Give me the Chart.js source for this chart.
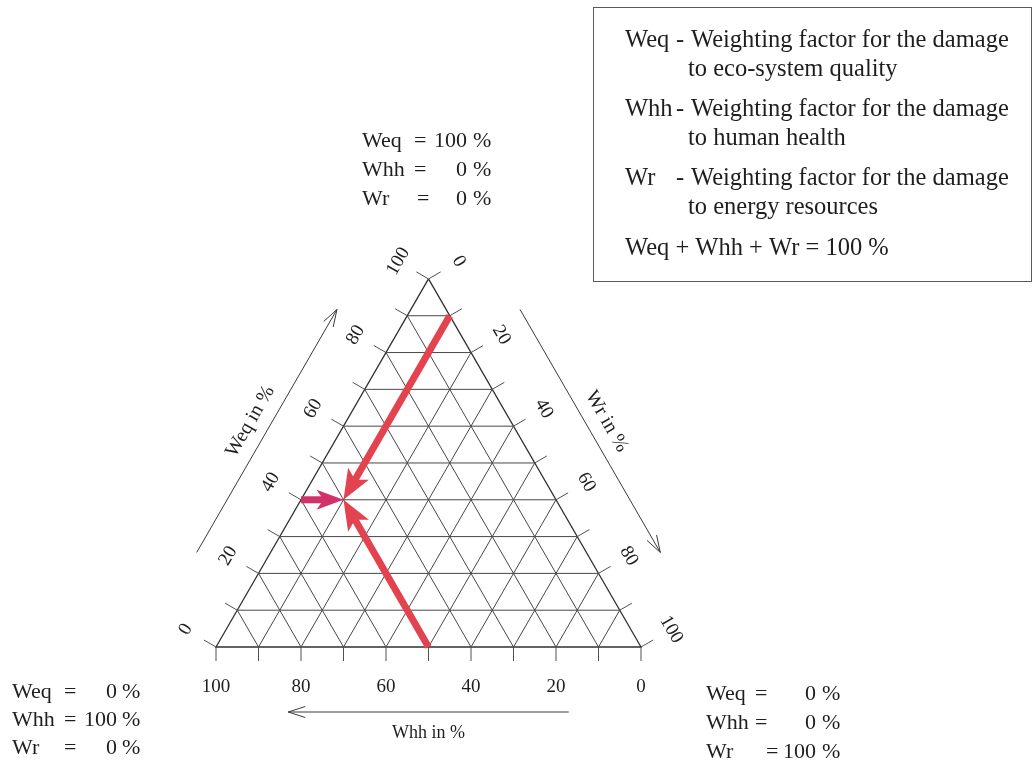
<!DOCTYPE html>
<html>
<head>
<meta charset="utf-8">
<script src="https://cdn.jsdelivr.net/npm/chart.js@4.4.1/dist/chart.umd.min.js"></script>
<style>
  html, body { margin: 0; padding: 0; background: #ffffff; overflow: hidden; }
  canvas { display: block; }
</style>
</head>
<body>
<canvas id="ternary" width="1035" height="768"></canvas>
<script>
// ---- Data (all values in percent, points given as [Weq, Whh, Wr]) ----
const gridSteps = [10, 20, 30, 40, 50, 60, 70, 80, 90];
const tickSteps = [0, 10, 20, 30, 40, 50, 60, 70, 80, 90, 100];
const weqTickLabels = [0, 20, 40, 60, 80, 100];
const whhTickLabels = [100, 80, 60, 40, 20, 0];
const wrTickLabels = [0, 20, 40, 60, 80, 100];

const triangleCorners = [[100, 0, 0], [0, 100, 0], [0, 0, 100], [100, 0, 0]];

// Weighting paths that lead to the selected set Weq 40 / Whh 50 / Wr 10
const pathAlongWr10 = [[90, 0, 10], [40, 50, 10]];
const pathAlongWhh50 = [[0, 50, 50], [40, 50, 10]];
const pathAlongWeq40 = [[40, 60, 0], [40, 50, 10]];

const axisTitles = ['Weq in %', 'Whh in %', 'Wr in %'];

const cornerWeq = ['100', '0', '0'];
const cornerWhh = ['0', '100', '0'];
const cornerWr = ['0', '0', '100'];

const legendLines = [
  ['Weq', '-', 'Weighting factor for the damage'],
  ['', '', 'to eco-system quality'],
  ['Whh', '-', 'Weighting factor for the damage'],
  ['', '', 'to human health'],
  ['Wr', '-', 'Weighting factor for the damage'],
  ['', '', 'to energy resources'],
  ['Weq + Whh + Wr = 100 %', '', '']
];

// ---- Geometry helpers ----
const W = 1035, H = 768;
const UNIT = 4.25;                 // pixels per percent along a side
const ORIGIN = { x: 216, y: 647 }; // pixel of the Whh = 100 corner
const S = Math.sqrt(3) / 2;

function tern(p) { return { x: p[2] + p[0] / 2, y: p[0] * S }; }

const SERIF = '"Liberation Serif", "DejaVu Serif", serif';
const INK = '#1e1e1e';
const GRID = '#474747';

// side definitions: point on the side for value v, outward normal, label rotation
const sides = {
  weq: { at: v => [v, 100 - v, 0], n: [-S, -0.5], rot: -Math.PI / 3 },
  whh: { at: v => [0, v, 100 - v], n: [0, 1], rot: 0 },
  wr:  { at: v => [100 - v, 0, v], n: [S, -0.5], rot: Math.PI / 3 }
};

// ---- Datasets ----
const lineBase = { showLine: true, pointRadius: 0, borderWidth: 1, borderColor: GRID, fill: false };
const datasets = [];
gridSteps.forEach(k => {
  datasets.push({ ...lineBase, data: [tern([k, 100 - k, 0]), tern([k, 0, 100 - k])] });
  datasets.push({ ...lineBase, data: [tern([0, k, 100 - k]), tern([100 - k, k, 0])] });
  datasets.push({ ...lineBase, data: [tern([0, 100 - k, k]), tern([100 - k, 0, k])] });
});
datasets.push({ ...lineBase, borderColor: '#303030', borderWidth: 1.3, data: triangleCorners.map(tern) });

const arrowSets = [
  { path: pathAlongWr10, color: '#e3424f', width: 7, head: 30, half: 12 },
  { path: pathAlongWhh50, color: '#e3424f', width: 7, head: 30, half: 12 },
  { path: pathAlongWeq40, color: '#d2326b', width: 7, head: 27, half: 10 }
];
arrowSets.forEach(a => {
  datasets.push({ showLine: false, pointRadius: 0, data: a.path.map(tern), arrow: a });
});

// ---- Plugins ----
function sidePx(chart, side, v) {
  const p = tern(sides[side].at(v));
  return [chart.scales.x.getPixelForValue(p.x), chart.scales.y.getPixelForValue(p.y)];
}

function drawOpenArrow(ctx, x0, y0, x1, y1) {
  const dx = x1 - x0, dy = y1 - y0, len = Math.hypot(dx, dy);
  const ux = dx / len, uy = dy / len;
  ctx.beginPath();
  ctx.moveTo(x0, y0); ctx.lineTo(x1, y1);
  ctx.moveTo(x1 - 17 * ux - 5.5 * uy, y1 - 17 * uy + 5.5 * ux);
  ctx.lineTo(x1, y1);
  ctx.lineTo(x1 - 17 * ux + 5.5 * uy, y1 - 17 * uy - 5.5 * ux);
  ctx.stroke();
}

const axesPlugin = {
  id: 'ternaryAxes',
  afterDatasetsDraw(chart) {
    const ctx = chart.ctx;
    ctx.save();
    // tick marks on all three sides
    ctx.strokeStyle = '#505050';
    ctx.lineWidth = 1;
    Object.keys(sides).forEach(key => {
      const n = sides[key].n;
      tickSteps.forEach(v => {
        const [x, y] = sidePx(chart, key, v);
        ctx.beginPath();
        ctx.moveTo(x, y);
        ctx.lineTo(x + n[0] * 14, y + n[1] * 14);
        ctx.stroke();
      });
    });

    // tick labels
    ctx.fillStyle = INK;
    ctx.font = '19px ' + SERIF;
    ctx.textAlign = 'center';
    ctx.textBaseline = 'middle';
    const labelSets = { weq: weqTickLabels, whh: whhTickLabels, wr: wrTickLabels };
    Object.keys(labelSets).forEach(key => {
      const sd = sides[key];
      const off = key === 'whh' ? 40 : 35;
      labelSets[key].forEach(v => {
        const [x, y] = sidePx(chart, key, v);
        ctx.save();
        ctx.translate(x + sd.n[0] * off, y + sd.n[1] * off);
        ctx.rotate(sd.rot);
        ctx.fillText(String(v), 0, 0);
        ctx.restore();
      });
    });

    // direction arrows and titles beside each side
    ctx.strokeStyle = '#3a3a3a';
    ctx.lineWidth = 1;
    const keys = ['weq', 'whh', 'wr'];
    keys.forEach((key, i) => {
      const sd = sides[key];
      const off = key === 'whh' ? 65 : 64;
      const [ax, ay] = sidePx(chart, key, 17);
      const [bx, by] = sidePx(chart, key, 83);
      drawOpenArrow(ctx, ax + sd.n[0] * off, ay + sd.n[1] * off, bx + sd.n[0] * off, by + sd.n[1] * off);
      const toff = key === 'whh' ? 86 : 83;
      const [cx, cy] = sidePx(chart, key, 50);
      ctx.save();
      ctx.translate(cx + sd.n[0] * toff, cy + sd.n[1] * toff);
      ctx.rotate(sd.rot);
      ctx.font = (key === 'whh' ? '18px ' : '20px ') + SERIF;
      ctx.fillText(axisTitles[i], 0, 0);
      ctx.restore();
    });

    // thick path arrows
    chart.data.datasets.forEach((ds, i) => {
      if (!ds.arrow) return;
      const pts = chart.getDatasetMeta(i).data;
      const a = pts[0], b = pts[pts.length - 1];
      const st = ds.arrow;
      const dx = b.x - a.x, dy = b.y - a.y, len = Math.hypot(dx, dy);
      const ux = dx / len, uy = dy / len;
      const notchX = b.x - (st.head - 7) * ux, notchY = b.y - (st.head - 7) * uy;
      ctx.strokeStyle = st.color;
      ctx.fillStyle = st.color;
      ctx.lineWidth = st.width;
      ctx.lineCap = 'butt';
      ctx.beginPath();
      ctx.moveTo(a.x, a.y);
      ctx.lineTo(notchX, notchY);
      ctx.stroke();
      ctx.beginPath();
      ctx.moveTo(b.x, b.y);
      ctx.lineTo(b.x - st.head * ux - st.half * uy, b.y - st.head * uy + st.half * ux);
      ctx.lineTo(notchX, notchY);
      ctx.lineTo(b.x - st.head * ux + st.half * uy, b.y - st.head * uy - st.half * ux);
      ctx.closePath();
      ctx.fill();
    });
    ctx.restore();
  },

  afterDraw(chart) {
    const ctx = chart.ctx;
    ctx.save();
    ctx.fillStyle = INK;
    ctx.textBaseline = 'alphabetic';

    // composition at each corner of the triangle
    ctx.font = '22px ' + SERIF;
    const blocks = [
      { i: 0, x: 362, eq: [414, 414, 417], val: 467, pct: 473, y: [147, 176, 205] },
      { i: 1, x: 12, eq: [64, 64, 64], val: 117, pct: 122, y: [698, 726, 754] },
      { i: 2, x: 706, eq: [755, 755, 766], val: 816, pct: 822, y: [700, 729, 758] }
    ];
    blocks.forEach(b => {
      const rows = [['Weq', cornerWeq[b.i]], ['Whh', cornerWhh[b.i]], ['Wr', cornerWr[b.i]]];
      rows.forEach((r, k) => {
        ctx.textAlign = 'left';
        ctx.fillText(r[0], b.x, b.y[k]);
        ctx.fillText('=', b.eq[k], b.y[k]);
        ctx.textAlign = 'right';
        ctx.fillText(r[1], b.val, b.y[k]);
        ctx.textAlign = 'left';
        ctx.fillText('%', b.pct, b.y[k]);
      });
    });

    // explanation box
    ctx.strokeStyle = '#5a5a5a';
    ctx.lineWidth = 1;
    ctx.strokeRect(593.5, 7.5, 438, 274);
    ctx.font = '24.5px ' + SERIF;
    ctx.textAlign = 'left';
    const baselines = [47, 76, 116, 145, 185, 214, 255];
    legendLines.forEach((ln, k) => {
      const y = baselines[k];
      if (ln[0]) ctx.fillText(ln[0], 625, y);
      if (ln[1]) ctx.fillText(ln[1], 676, y);
      if (ln[2]) ctx.fillText(ln[2], ln[0] ? 691 : 688, y);
    });
    ctx.restore();
  }
};

new Chart(document.getElementById('ternary'), {
  type: 'scatter',
  data: { datasets },
  options: {
    responsive: false,
    animation: false,
    devicePixelRatio: 1,
    events: [],
    layout: { padding: 0 },
    plugins: { legend: { display: false }, tooltip: { enabled: false } },
    scales: {
      x: { type: 'linear', display: false, min: -ORIGIN.x / UNIT, max: (W - ORIGIN.x) / UNIT },
      y: { type: 'linear', display: false, min: -(H - ORIGIN.y) / UNIT, max: ORIGIN.y / UNIT }
    }
  },
  plugins: [axesPlugin]
});
</script>
</body>
</html>
